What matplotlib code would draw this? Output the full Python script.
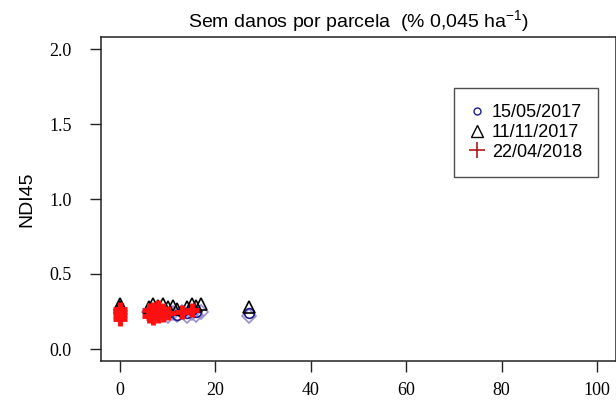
import matplotlib
matplotlib.use("Agg")
import matplotlib.pyplot as plt
from matplotlib.lines import Line2D

plt.rcParams['mathtext.fontset'] = 'custom'
plt.rcParams['mathtext.rm'] = 'Liberation Sans'
plt.rcParams['mathtext.it'] = 'Liberation Sans'

# Data
labels = ["15/05/2017", "11/11/2017", "22/04/2018"]
x_circle = [0, 0, 6, 7, 8, 9, 10, 12, 13, 14, 15, 16, 27]
y_circle = [0.24, 0.22, 0.25, 0.24, 0.26, 0.25, 0.24, 0.23, 0.25, 0.24, 0.26, 0.25, 0.24]
x_tri = [0, 0, 6, 7, 8, 9, 10, 11, 12, 14, 15, 16, 17, 27]
y_tri = [0.30, 0.28, 0.28, 0.30, 0.29, 0.30, 0.28, 0.29, 0.27, 0.28, 0.30, 0.29, 0.30, 0.28]
x_plus = [0, 0, 0, 0, 6, 6, 7, 7, 7, 8, 8, 8, 9, 9, 10, 13, 15]
y_plus = [0.20, 0.23, 0.25, 0.27, 0.22, 0.26, 0.21, 0.24, 0.27, 0.22, 0.25, 0.28, 0.23, 0.26, 0.24, 0.25, 0.26]
x_dia = [6, 8, 10, 11, 12, 13, 14, 15, 16, 17, 27]
y_dia = [0.25, 0.23, 0.22, 0.24, 0.23, 0.25, 0.22, 0.24, 0.23, 0.25, 0.22]
xticks = [0, 20, 40, 60, 80, 100]
yticks = [0.0, 0.5, 1.0, 1.5, 2.0]

fig = plt.figure(figsize=(6.16, 4.05), dpi=100)
ax = fig.add_axes([101/616, 44/405, 515/616, 324/405])

ax.plot(x_dia, y_dia, linestyle='none', marker='D', markersize=7, mfc='none', mec='#9a8fd0', mew=1.2)
ax.plot(x_circle, y_circle, linestyle='none', marker='o', markersize=7, mfc='none', mec='#1c1c8c', mew=1.2)
ax.plot(x_tri, y_tri, linestyle='none', marker='^', markersize=9, mfc='none', mec='black', mew=1.2)
ax.plot(x_plus, y_plus, linestyle='none', marker='+', markersize=10, mec='#ff1010', mew=3.5)

ax.set_xlim(-4, 104)
ax.set_ylim(-0.08, 2.08)
tick_font = {'family': 'Liberation Serif', 'size': 13}
ax.set_xticks(xticks)
ax.set_xticklabels([str(v) for v in xticks], fontdict=tick_font)
ax.set_yticks(yticks)
ax.set_yticklabels([f"{v:.1f}" for v in yticks], fontdict=tick_font)
ax.tick_params(direction='out', length=8, width=1, color='#222222')
ax.tick_params(axis='y', pad=13)
ax.tick_params(axis='x', pad=7)
for sp in ax.spines.values():
    sp.set_linewidth(1.1)
    sp.set_color('#222222')

ax.set_ylabel('NDI45', fontfamily='Liberation Sans', fontsize=14, labelpad=10)
ax.set_title(r'Sem danos por parcela  (% 0,045 ha$^{-1}$)', fontfamily='Liberation Sans',
             fontsize=14, pad=7)

handles = [
    Line2D([], [], linestyle='none', marker='o', markersize=5, mfc='none', mec='#1c1c8c', mew=1.0),
    Line2D([], [], linestyle='none', marker='^', markersize=9, mfc='none', mec='black', mew=1.0),
    Line2D([], [], linestyle='none', marker='+', markersize=11, mec='#b01818', mew=1.2),
]
leg = ax.legend(handles, labels, loc='upper left', bbox_to_anchor=((454-101)/515, (361-88)/324),
                prop={'family': 'Liberation Sans', 'size': 13}, frameon=True, fancybox=False,
                handlelength=0.8, handletextpad=0.4, labelspacing=0.15, borderpad=0.9,
                borderaxespad=0)
leg.get_frame().set_edgecolor('#222222')
leg.get_frame().set_linewidth(1.0)

fig.savefig('out.png', dpi=100)
